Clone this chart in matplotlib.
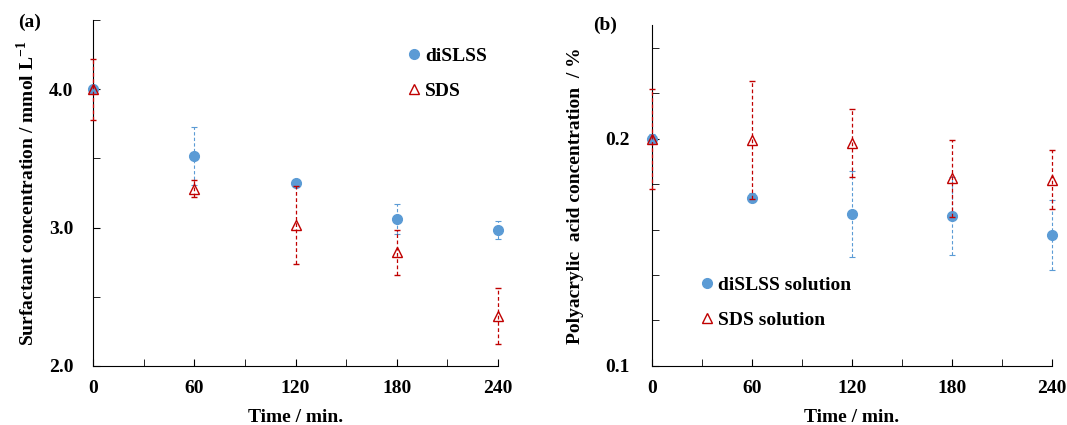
import numpy as np
import matplotlib.pyplot as plt
from matplotlib.ticker import MultipleLocator
from matplotlib.lines import Line2D

plt.rcParams['font.family'] = ['Liberation Serif', 'DejaVu Serif']
plt.rcParams['font.weight'] = 'bold'
plt.rcParams['mathtext.fontset'] = 'custom'
plt.rcParams['mathtext.rm'] = 'Liberation Serif:bold'
plt.rcParams['mathtext.bf'] = 'Liberation Serif:bold'

# time points (min)
time = [0, 60, 120, 180, 240]

# panel (a): surfactant concentration / mmol L-1
disls_surf = [4.00, 3.52, 3.32, 3.06, 2.98]
disls_surf_err = [0.02, 0.21, 0.02, 0.11, 0.065]
sds_surf = [4.00, 3.28, 3.02, 2.82, 2.36]
sds_surf_err = [0.22, 0.06, 0.28, 0.16, 0.20]

# panel (b): polyacrylic acid concentration / %
disls_paa = [0.200, 0.174, 0.167, 0.166, 0.1575]
disls_paa_err = [0.002, 0.002, 0.019, 0.017, 0.0155]
sds_paa = [0.200, 0.1996, 0.1982, 0.1825, 0.182]
sds_paa_err = [0.022, 0.026, 0.015, 0.017, 0.013]

blue = '#5B9BD5'
red = '#C00000'
fs = 14


def draw_series(ax, y1, e1, y2, e2, ypad):
    eb = ax.errorbar(time, y1, yerr=e1, fmt='o', color=blue, ms=7,
                     ecolor=blue, elinewidth=0.8, capsize=2.5, capthick=0.8,
                     zorder=3, clip_on=False)
    eb[-1][0].set_linestyle((0, (3, 2)))
    eb = ax.errorbar(time, y2, yerr=e2, fmt='^', mfc='none', mec=red, ms=7.5,
                     mew=1.0, ecolor=red, elinewidth=0.9, capsize=2.5,
                     capthick=0.9, zorder=4, clip_on=False)
    eb[-1][0].set_linestyle((0, (3, 2)))
    for s in ['top', 'right']:
        ax.spines[s].set_visible(False)
    ax.set_xlim(0, 240)
    ax.xaxis.set_major_locator(MultipleLocator(60))
    ax.xaxis.set_minor_locator(MultipleLocator(30))
    ax.tick_params(axis='both', which='both', direction='in', labelsize=fs)
    ax.tick_params(axis='x', which='both', length=5, pad=10)
    ax.tick_params(axis='y', which='both', length=5, pad=ypad)
    ax.set_xlabel('Time / min.', fontsize=fs, fontweight='bold', labelpad=9)


def legend_handles():
    h1 = Line2D([], [], ls='none', marker='o', color=blue, ms=7)
    h2 = Line2D([], [], ls='none', marker='^', mfc='none', mec=red, ms=7.5,
                mew=1.0)
    return [h1, h2]


fig = plt.figure(figsize=(10.67, 4.25), dpi=100)
ax1 = fig.add_axes([0.0872, 0.139, 0.3795, 0.814])
ax2 = fig.add_axes([0.611, 0.139, 0.3749, 0.802])

draw_series(ax1, disls_surf, disls_surf_err, sds_surf, sds_surf_err, 14)
ax1.set_ylim(2.0, 4.5)
ax1.yaxis.set_major_locator(MultipleLocator(1.0))
ax1.yaxis.set_minor_locator(MultipleLocator(0.5))
ax1.yaxis.set_major_formatter(plt.FormatStrFormatter('%.1f'))
ax1.set_ylabel('Surfactant concentration / mmol L$^{-1}$', fontsize=fs,
               fontweight='bold', labelpad=8)
ax1.legend(legend_handles(), ['diSLSS', 'SDS'], loc='upper left',
           bbox_to_anchor=(0.383, 0.889), bbox_transform=fig.transFigure,
           frameon=False, fontsize=fs, handletextpad=0.23,
           handlelength=0.6, labelspacing=0.9, borderpad=0, borderaxespad=0)
fig.text(0.017, 0.948, '(a)', fontsize=fs, fontweight='bold', va='center')

draw_series(ax2, disls_paa, disls_paa_err, sds_paa, sds_paa_err, 16)
ax2.set_ylim(0.1, 0.25)
ax2.yaxis.set_major_locator(MultipleLocator(0.1))
ax2.yaxis.set_minor_locator(MultipleLocator(0.02))
ax2.yaxis.set_major_formatter(plt.FormatStrFormatter('%.1f'))
ax2.set_ylabel('Polyacrylic  acid concentration  / %', fontsize=fs,
               fontweight='bold', labelpad=15)
ax2.legend(legend_handles(), ['diSLSS solution', 'SDS solution'],
           loc='upper left', bbox_to_anchor=(0.6575, 0.35),
           bbox_transform=fig.transFigure, frameon=False, fontsize=fs,
           handletextpad=0.23, handlelength=0.6, labelspacing=0.9,
           borderpad=0, borderaxespad=0)
fig.text(0.556, 0.941, '(b)', fontsize=fs, fontweight='bold', va='center')

fig.savefig('out.png', dpi=100)
